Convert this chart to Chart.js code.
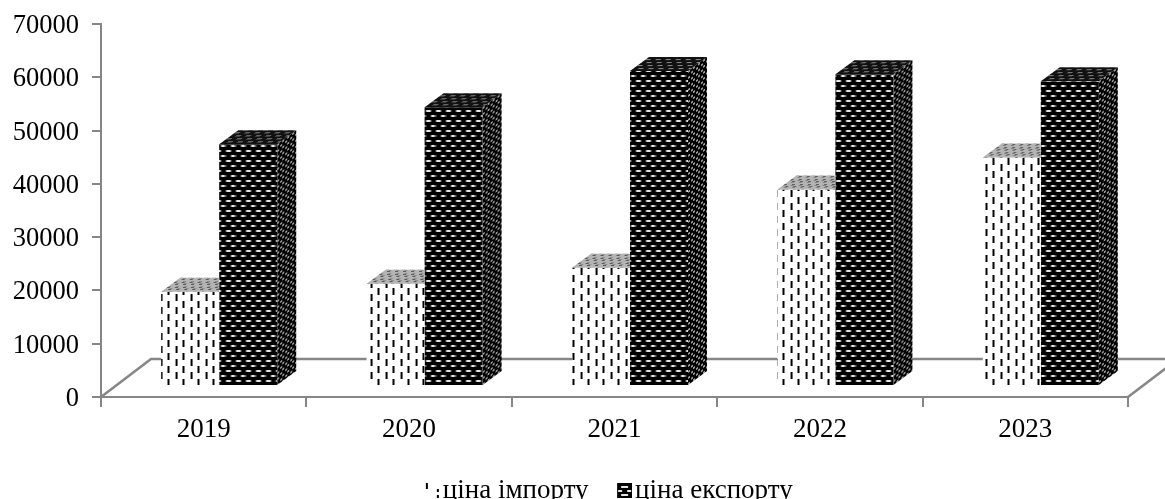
<!DOCTYPE html>
<html>
<head>
<meta charset="utf-8">
<script src="https://cdn.jsdelivr.net/npm/chart.js@4"></script>
<style>
  body { margin: 0; background: #fff; }
  canvas { display: block; }
</style>
</head>
<body>
<canvas id="chart" width="1165" height="499"></canvas>
<script>
const years = ['2019', '2020', '2021', '2022', '2023'];
const importPrice = [17700, 19200, 22200, 36900, 42900];
const exportPrice = [45350, 52300, 59100, 58500, 57200];
const importName = 'ціна імпорту';
const exportName = 'ціна експорту';

const axisColor = '#868686';
const fontName = '"Liberation Serif", "Times New Roman", serif';
// how far the bars' "3d" depth goes, and where the fronts sit on the floor
const depthX = 19, depthY = 14;
const floorX = 50, floorY = 38;
const shiftX = 15.5, shiftY = 11;

function tileCanvas(w, h, bg, draw) {
  const c = document.createElement('canvas');
  c.width = w; c.height = h;
  const g = c.getContext('2d');
  g.fillStyle = bg;
  g.fillRect(0, 0, w, h);
  draw(g);
  return c;
}
function tile(w, h, bg, draw) {
  return document.createElement('canvas').getContext('2d').createPattern(tileCanvas(w, h, bg, draw), 'repeat');
}

const dashes = tile(15, 13, '#fff', g => {
  g.fillStyle = '#000';
  g.fillRect(2, 0, 2, 7);
  g.fillRect(10, 6, 2, 7);
});
const dots = tile(10, 10, '#000', g => {
  g.fillStyle = '#666';
  g.fillRect(0, 1, 6, 2);
  g.fillRect(5, 6, 5, 2);
  g.fillRect(0, 6, 1, 2);
  g.fillStyle = '#e6e6e6';
  g.fillRect(1, 1, 4, 2);
  g.fillRect(6, 6, 3, 2);
});
const sideDots = tile(5, 6, '#000', g => {
  g.fillStyle = '#9a9a9a';
  g.fillRect(0, 0, 2, 2);
  g.fillRect(3, 3, 2, 2);
});
const topDots = tile(10, 6, '#111', g => {
  g.fillStyle = '#8c8c8c';
  g.fillRect(0, 0, 5, 1);
  g.fillRect(5, 3, 5, 1);
});
const importTop = tile(8, 5, '#b4b4b4', g => {
  g.fillStyle = '#333';
  g.fillRect(0, 0, 3, 1);
  g.fillRect(4, 2, 3, 1);
});

// legend swatches: the right hand part of a wider clear canvas, so they sit close to the text
function swatch(draw) {
  const c = document.createElement('canvas');
  c.width = 32; c.height = 15;
  draw(c.getContext('2d'));
  return c;
}
const importSwatch = swatch(g => {
  g.fillStyle = '#000';
  g.fillRect(18, 0, 2, 6);
  g.fillRect(29, 6, 2, 3);
  g.fillRect(29, 12, 2, 3);
});
const exportSwatch = swatch(g => {
  g.fillStyle = '#000';
  g.fillRect(17, 0, 15, 15);
  g.fillStyle = '#e4e4e4';
  g.fillRect(21, 3, 7, 2);
  g.fillRect(18, 7, 4, 2);
  g.fillRect(27, 7, 4, 2);
  g.fillRect(21, 11, 7, 2);
});

function topFace(ctx, bar, fill) {
  ctx.save();
  ctx.transform(1, 0, -depthX / depthY, 1, bar.x - bar.width / 2, bar.y);
  ctx.fillStyle = fill;
  ctx.fillRect(0, -depthY, bar.width, depthY);
  ctx.restore();
}

function sideFace(ctx, bar, fill) {
  ctx.save();
  ctx.transform(1, -depthY / depthX, 0, 1, bar.x + bar.width / 2, bar.y);
  ctx.fillStyle = fill;
  ctx.fillRect(0, 0, depthX, bar.base - bar.y);
  ctx.restore();
}

const bars3d = {
  id: 'bars3d',
  afterLayout(chart) {
    // legend sits a little right of the canvas middle
    chart.legend.left += 41.5;
    chart.legend.right += 41.5;
    chart.legend.top += 15;
    chart.legend.bottom += 15;
  },
  beforeDatasetsDraw(chart) {
    const { ctx, chartArea: a } = chart;
    // floor of the 3d box
    ctx.save();
    ctx.strokeStyle = axisColor;
    ctx.lineWidth = 2.5;
    ctx.beginPath();
    ctx.moveTo(a.left, a.bottom);
    ctx.lineTo(a.left + floorX, a.bottom - floorY);
    ctx.lineTo(a.right + floorX, a.bottom - floorY);
    ctx.lineTo(a.right, a.bottom);
    ctx.stroke();
    ctx.restore();
    ctx.save();
    ctx.translate(shiftX, -shiftY);
  },
  afterDatasetDraw(chart, args) {
    const { ctx } = chart;
    if (args.index === 1) {
      chart.getDatasetMeta(1).data.forEach(bar => {
        sideFace(ctx, bar, sideDots);
        topFace(ctx, bar, topDots);
      });
    } else {
      // the import bar only shows its top left of the export bar
      chart.getDatasetMeta(0).data.forEach(bar => {
        ctx.save();
        ctx.beginPath();
        ctx.rect(bar.x - bar.width / 2 - 1, 0, bar.width + 1, chart.height);
        ctx.clip();
        topFace(ctx, bar, importTop);
        ctx.restore();
      });
    }
  },
  afterDatasetsDraw(chart) {
    chart.ctx.restore();
  }
};

new Chart(document.getElementById('chart'), {
  type: 'bar',
  data: {
    labels: years,
    datasets: [
      { label: importName, data: importPrice, backgroundColor: dashes, pointStyle: importSwatch, borderWidth: 0 },
      { label: exportName, data: exportPrice, backgroundColor: dots, pointStyle: exportSwatch, borderWidth: 0 }
    ]
  },
  options: {
    responsive: false,
    animation: false,
    layout: { padding: { top: 24, right: 37, left: 0, bottom: 0 } },
    categoryPercentage: 0.565,
    barPercentage: 1,
    scales: {
      x: {
        afterFit(scale) { scale.height = 43; },
        border: { color: axisColor, width: 2 },
        grid: { drawOnChartArea: false, color: axisColor, lineWidth: 2, tickLength: 10 },
        ticks: { color: '#000', maxRotation: 0, padding: 7, font: { family: fontName, size: 27 } }
      },
      y: {
        min: 0,
        max: 70000,
        afterFit(scale) {
          scale.width = 101;
          scale.paddingTop = 0;
          scale.paddingBottom = 0;
        },
        border: { color: axisColor, width: 2 },
        grid: { drawOnChartArea: false, color: axisColor, lineWidth: 2, tickLength: 9 },
        ticks: {
          color: '#000',
          stepSize: 10000,
          padding: 13,
          labelOffset: 2,
          callback: v => String(v),
          font: { family: fontName, size: 26.5 }
        }
      }
    },
    plugins: {
      tooltip: { enabled: false },
      legend: {
        position: 'bottom',
        labels: {
          color: '#000',
          usePointStyle: true,
          boxWidth: 11,
          boxHeight: 11,
          padding: 22,
          font: { family: fontName, size: 27 }
        }
      }
    }
  },
  plugins: [bars3d]
});
</script>
</body>
</html>
